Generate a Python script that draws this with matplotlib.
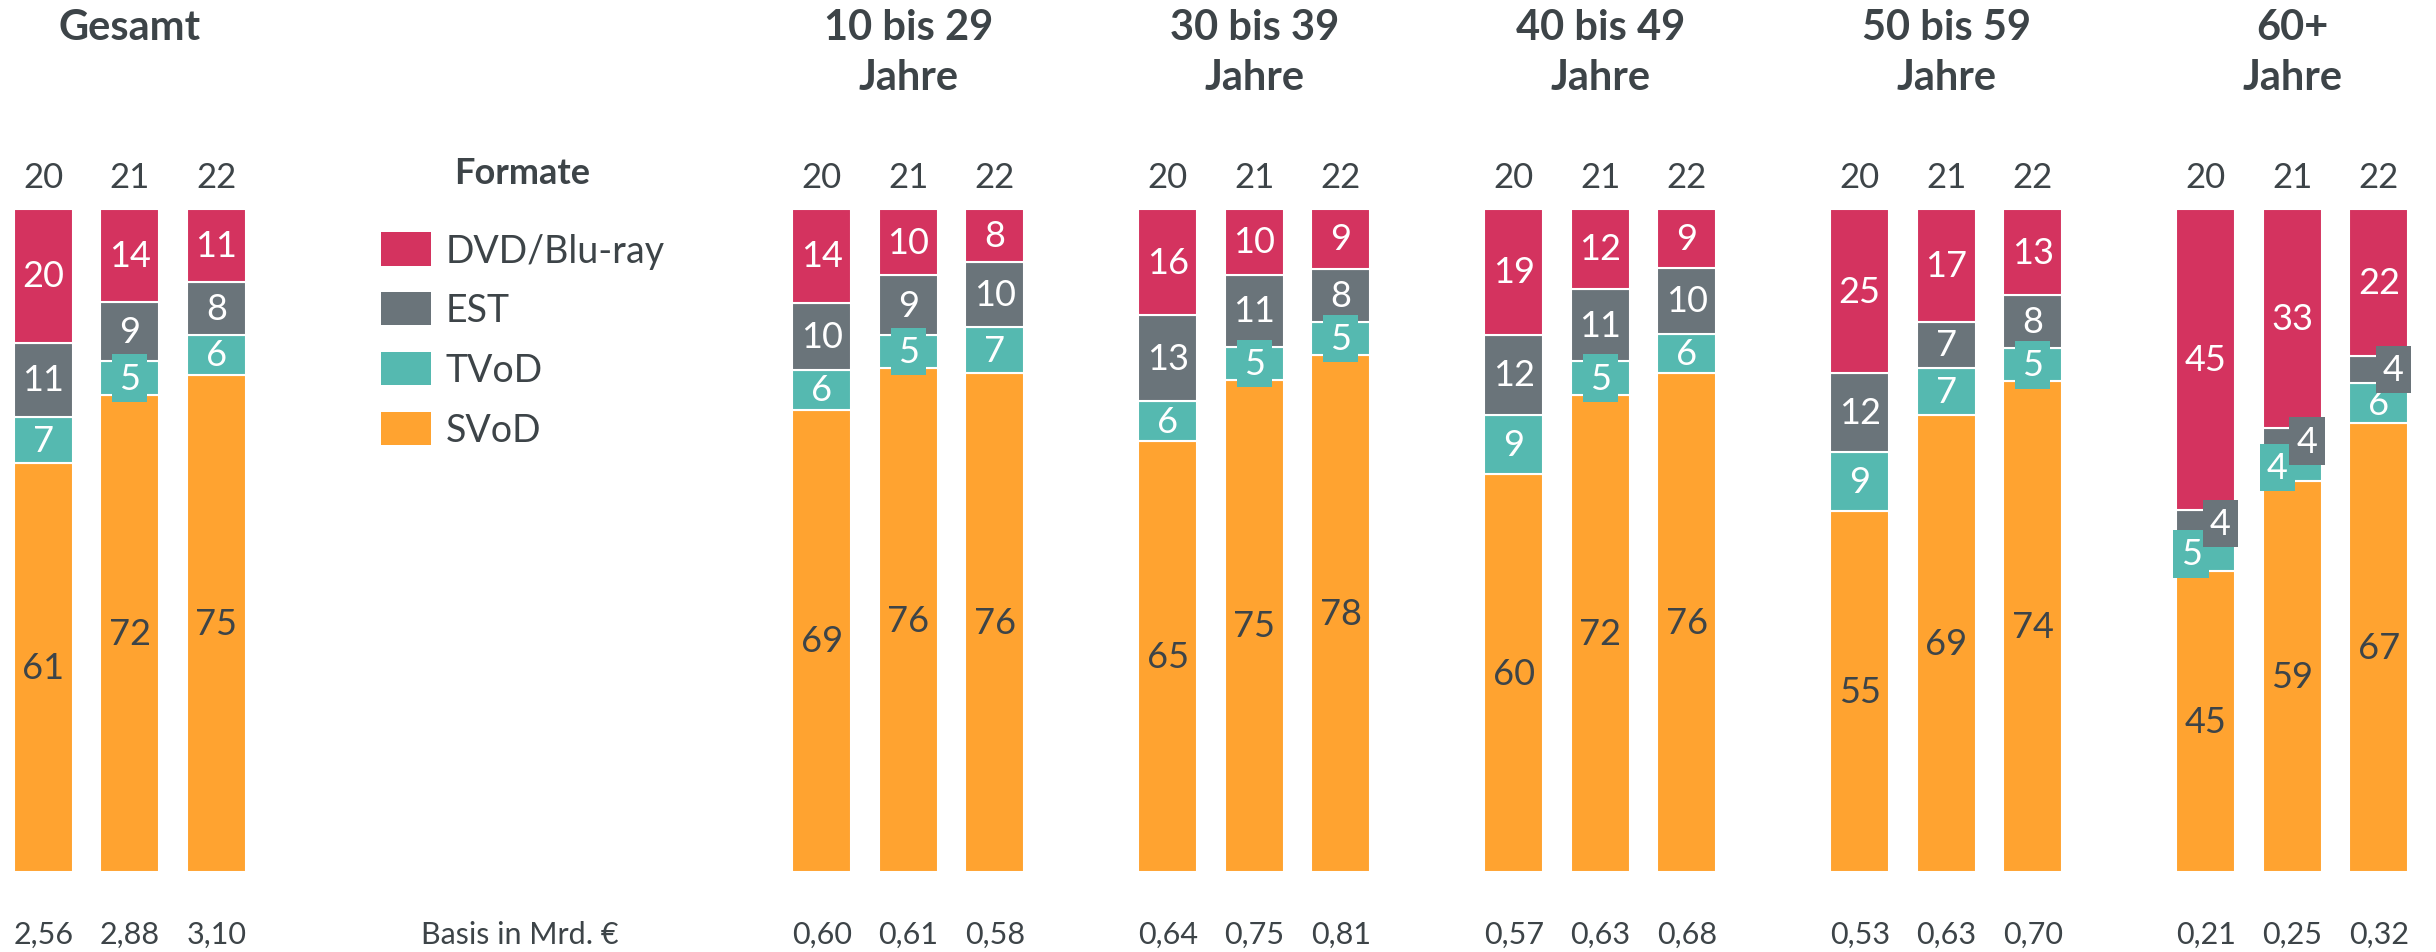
import numpy as np
import matplotlib.pyplot as plt
from matplotlib.patches import Patch

plt.rcParams['font.family'] = ['Lato', 'DejaVu Sans']

# ---- data ----
groups = ["Gesamt", "10 bis 29\nJahre", "30 bis 39\nJahre", "40 bis 49\nJahre",
          "50 bis 59\nJahre", "60+\nJahre"]
years = ["20", "21", "22"]
formats = ["DVD/Blu-ray", "EST", "TVoD", "SVoD"]

# shares in % per group, one row per year
dvd = [[20, 14, 11], [14, 10, 8], [16, 10, 9], [19, 12, 9], [25, 17, 13], [45, 33, 22]]
est = [[11, 9, 8], [10, 9, 10], [13, 11, 8], [12, 11, 10], [12, 7, 8], [4, 4, 4]]
tvod = [[7, 5, 6], [6, 5, 7], [6, 5, 5], [9, 5, 6], [9, 7, 5], [5, 4, 6]]
svod = [[61, 72, 75], [69, 76, 76], [65, 75, 78], [60, 72, 76], [55, 69, 74], [45, 59, 67]]

basis = [["2,56", "2,88", "3,10"], ["0,60", "0,61", "0,58"], ["0,64", "0,75", "0,81"],
         ["0,57", "0,63", "0,68"], ["0,53", "0,63", "0,70"], ["0,21", "0,25", "0,32"]]

colors = {"DVD/Blu-ray": "#d4335f", "EST": "#6a747a", "TVoD": "#55b9b0", "SVoD": "#ffa330"}
text_dark = "#3d4448"

W, H = 2436, 953
fig = plt.figure(figsize=(W / 100, H / 100), dpi=100)
ax = fig.add_axes([0, 80 / H, 1, 663 / H])
slot = 86.5  # px per bar slot
ax.set_xlim(0, W / slot)
ax.set_ylim(0, 100)
ax.axis("off")

group_x = [1.5] + [10.5 + 4 * i for i in range(5)]
bar_w = 0.68
shift = 0.17
px = 100 / 663  # one pixel in y data units

for g, gx in enumerate(group_x):
    # group title, one text per line
    for i, line in enumerate(groups[g].split("\n")):
        ax.text(gx, 125.6 - i * 50 * px, line, ha="center", va="baseline", fontsize=30,
                fontweight="bold", color=text_dark, clip_on=False)
    for j in range(3):
        x = gx + (j - 1)
        vals = {"SVoD": svod[g][j], "TVoD": tvod[g][j], "EST": est[g][j],
                "DVD/Blu-ray": dvd[g][j]}
        total = sum(vals.values())
        bottom = 0
        small = {k: v <= 5 for k, v in vals.items()}
        for f in ["SVoD", "TVoD", "EST", "DVD/Blu-ray"]:
            h = vals[f] / total * 100
            ax.bar(x, h, bottom=bottom, width=bar_w, color=colors[f],
                   edgecolor="white", linewidth=1.5)
            tx = x
            if f == "EST" and small["EST"]:
                tx = x + shift
            elif f == "TVoD" and small["TVoD"] and small["EST"]:
                tx = x - shift
            kw = {}
            if small[f]:
                kw["bbox"] = dict(boxstyle="square,pad=0.2", fc=colors[f], ec="none")
            ax.text(tx, bottom + h / 2, str(vals[f]), ha="center", va="center",
                    fontsize=26, color=text_dark if f == "SVoD" else "white", **kw)
            bottom += h
        ax.text(x, 103.3, years[j], ha="center", va="baseline", fontsize=25,
                color=text_dark, clip_on=False)
        ax.text(x, -10.7, basis[g][j], ha="center", va="baseline", fontsize=22,
                color=text_dark, clip_on=False)

# legend
handles = [Patch(facecolor=colors[f], edgecolor="none") for f in formats]
leg = fig.legend(handles, formats, loc="upper left",
                 bbox_to_anchor=(381 / W, (H - 233) / H), frameon=False,
                 fontsize=27, handlelength=1.34, handleheight=1.0,
                 handletextpad=0.38, labelspacing=0.62, borderpad=0,
                 borderaxespad=0)
for t in leg.get_texts():
    t.set_color(text_dark)
fig.text(522 / W, (H - 173) / H, "Formate", ha="center", va="center",
         fontsize=26, fontweight="bold", color=text_dark)
fig.text(520 / W, (H - 944) / H, "Basis in Mrd. \u20ac", ha="center", va="baseline",
         fontsize=22, color=text_dark)

fig.savefig("out.png", dpi=100)
